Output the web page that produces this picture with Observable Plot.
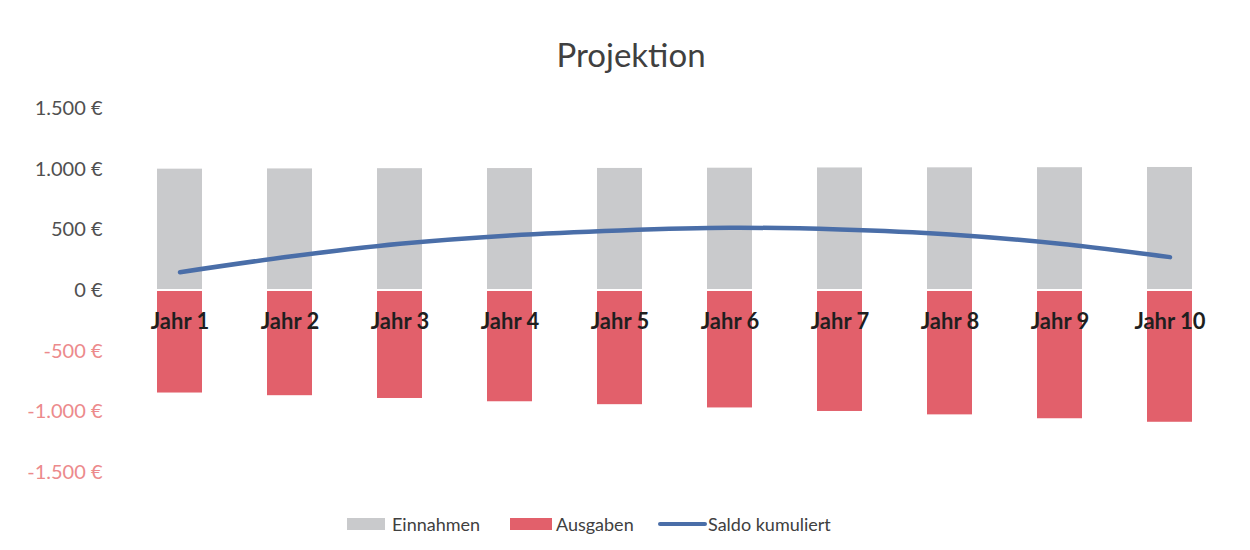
<!DOCTYPE html>
<html>
<head>
<meta charset="utf-8">
<script src="https://cdn.jsdelivr.net/npm/d3@7"></script>
<script src="https://cdn.jsdelivr.net/npm/@observablehq/plot@0.6"></script>
<style>
  html, body { margin: 0; padding: 0; background: #fff; }
  body { width: 1250px; height: 550px; overflow: hidden; font-family: Lato, "Open Sans", sans-serif; position: relative; }
  #title { position: absolute; left: 0; top: 0; width: 1250px; height: 88px; }
  #title span { position: absolute; left: 631px; top: 54px; transform: translate(-50%, -50%); font-size: 33px; color: #404040; white-space: nowrap; }
  #chart { position: absolute; left: 0; top: 88px; }
  #legend { position: absolute; left: 0; top: 500px; width: 1250px; height: 50px; font-size: 18px; color: #404040; }
  #legend .item { position: absolute; top: 12px; display: flex; align-items: center; height: 24px; white-space: nowrap; }
  #legend .sw { display: inline-block; }
</style>
</head>
<body>
<div id="title"><span>Projektion</span></div>
<div id="chart"></div>
<div id="legend"></div>
<script>
// ---- data ----
const years = ["Jahr 1", "Jahr 2", "Jahr 3", "Jahr 4", "Jahr 5", "Jahr 6", "Jahr 7", "Jahr 8", "Jahr 9", "Jahr 10"];
const einnahmen = [1000, 1002, 1004, 1005, 1006, 1008, 1010, 1011, 1012, 1014];
const ausgaben = [-845, -867, -890, -917, -941, -968, -997, -1025, -1057, -1086];
const saldo = [151, 280, 385, 454, 495, 517, 503, 462, 385, 275];
const posTicks = [0, 500, 1000, 1500];
const negTicks = [-500, -1000, -1500];
const seriesNames = ["Einnahmen", "Ausgaben", "Saldo kumuliert"];
const seriesColors = ["#c9cacc", "#e2606b", "#4a6ea8"];

// ---- build tables ----
const rows = years.map((y, i) => ({year: y, ein: einnahmen[i], aus: ausgaben[i], saldo: saldo[i]}));

const fmt = v => (v < 0 ? "-" : "") + d3.format(",")(Math.abs(v)).replace(/,/g, ".") + " €";

const chart = Plot.plot({
  width: 1250,
  height: 404,
  marginLeft: 124,
  marginRight: 24,
  marginTop: 20,
  marginBottom: 20,
  style: {fontFamily: "Lato, 'Open Sans', sans-serif", background: "#fff", overflow: "visible"},
  x: {domain: years, paddingInner: 0.59, paddingOuter: 0.295, axis: null},
  y: {domain: [-1500, 1500], axis: null},
  marks: [
    Plot.barY(rows, {x: "year", y1: 0, y2: "ein", fill: seriesColors[0], insetBottom: 1}),
    Plot.barY(rows, {x: "year", y1: 0, y2: "aus", fill: seriesColors[1], insetTop: 1}),
    Plot.axisY(posTicks, {tickSize: 0, tickPadding: 22, tickFormat: fmt, fill: "#505050", fontSize: 20}),
    Plot.axisY(negTicks, {tickSize: 0, tickPadding: 22, tickFormat: fmt, fill: "#ec8a8c", fontSize: 20}),
    Plot.line(rows, {x: "year", y: "saldo", stroke: seriesColors[2], strokeWidth: 4.5, curve: "catmull-rom", strokeLinecap: "round"}),
    Plot.text(rows, {x: "year", y: () => 0, text: "year", dy: 31, fontSize: 22, fontWeight: "bold", fill: "#1f1f1f"})
  ]
});
document.getElementById("chart").appendChild(chart);

// ---- legend ----
const legend = document.getElementById("legend");
const legendLayout = [
  {left: 347, sw: {w: 38, h: 12}, gap: 7},
  {left: 510, sw: {w: 42, h: 12}, gap: 4},
  {left: 658, sw: {w: 49, h: 4}, gap: 1}
];
seriesNames.forEach((name, i) => {
  const L = legendLayout[i];
  const item = document.createElement("div");
  item.className = "item";
  item.style.left = L.left + "px";
  const sw = document.createElement("span");
  sw.className = "sw";
  sw.style.width = L.sw.w + "px";
  sw.style.height = L.sw.h + "px";
  sw.style.background = seriesColors[i];
  sw.style.marginRight = L.gap + "px";
  if (i === 2) sw.style.borderRadius = "2px";
  const t = document.createElement("span");
  t.textContent = name;
  item.appendChild(sw);
  item.appendChild(t);
  legend.appendChild(item);
});
</script>
</body>
</html>
